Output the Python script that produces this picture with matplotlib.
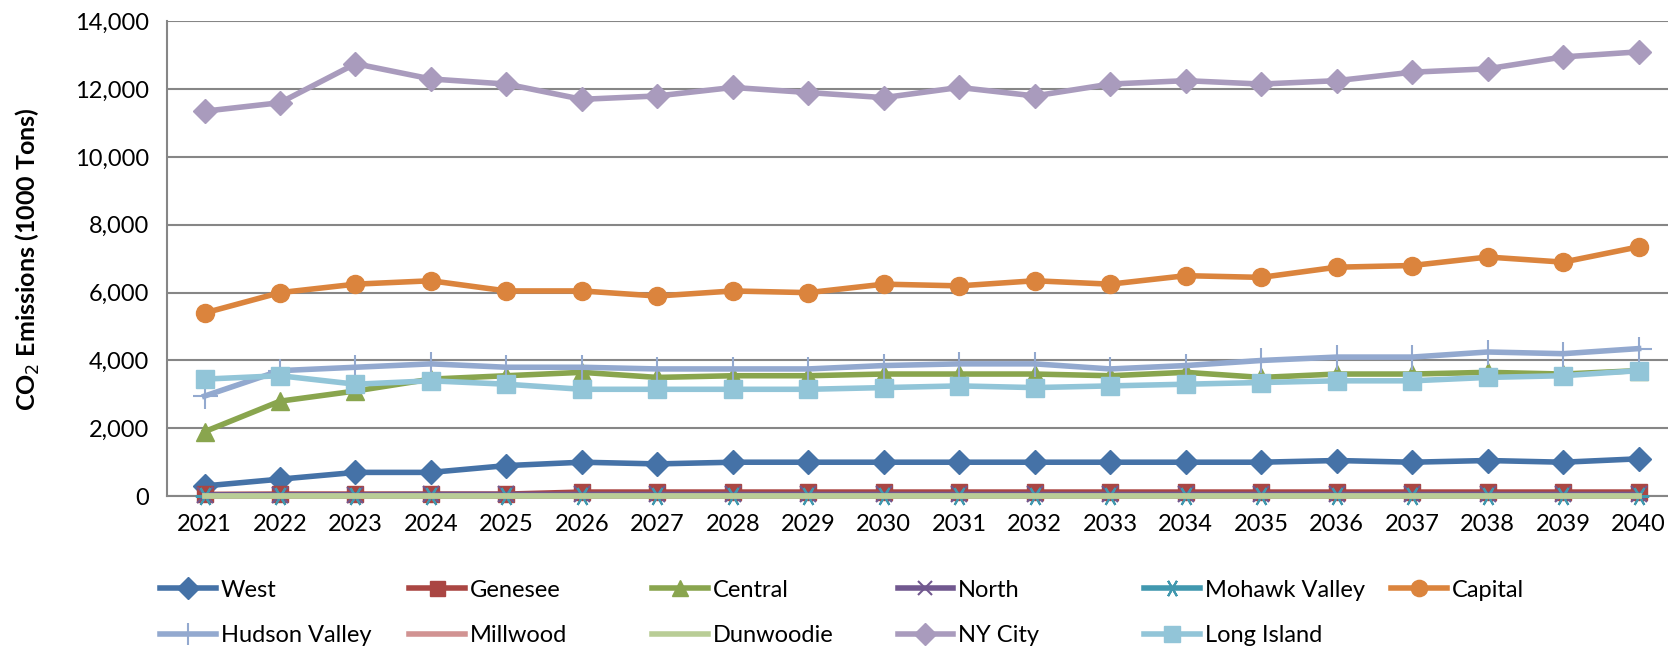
import matplotlib
matplotlib.use("Agg")
from matplotlib import pyplot as plt
from matplotlib.ticker import FuncFormatter

plt.rcParams['font.family'] = ['Lato', 'DejaVu Sans']

years = list(range(2021, 2041))

west = [300, 500, 700, 700, 900, 1000, 950, 1000, 1000, 1000,
        1000, 1000, 1000, 1000, 1000, 1050, 1000, 1050, 1000, 1100]
genesee = [50, 60, 60, 60, 60, 120, 120, 120, 120, 120,
           120, 120, 120, 120, 120, 120, 120, 120, 120, 120]
central = [1900, 2800, 3100, 3450, 3550, 3650, 3500, 3550, 3550, 3600,
           3600, 3600, 3550, 3650, 3500, 3600, 3600, 3650, 3600, 3700]
north = [40, 40, 40, 50, 50, 50, 50, 50, 50, 50,
         50, 50, 50, 50, 50, 50, 50, 50, 50, 50]
mohawk = [10, 10, 10, 10, 10, 10, 10, 10, 10, 10,
          10, 10, 10, 10, 10, 10, 10, 10, 10, 10]
capital = [5400, 6000, 6250, 6350, 6050, 6050, 5900, 6050, 6000, 6250,
           6200, 6350, 6250, 6500, 6450, 6750, 6800, 7050, 6900, 7350]
hudson = [2950, 3700, 3800, 3900, 3800, 3800, 3750, 3750, 3750, 3850,
          3900, 3900, 3750, 3850, 4000, 4100, 4100, 4250, 4200, 4350]
millwood = [0] * 20
dunwoodie = [0] * 20
nycity = [11350, 11600, 12750, 12300, 12150, 11700, 11800, 12050, 11900, 11750,
          12050, 11800, 12150, 12250, 12150, 12250, 12500, 12600, 12950, 13100]
long_island = [3450, 3550, 3300, 3400, 3300, 3150, 3150, 3150, 3150, 3200,
               3250, 3200, 3250, 3300, 3350, 3400, 3400, 3500, 3550, 3700]

series = [
    ("West", west, "#4572A7", "D", 12),
    ("Genesee", genesee, "#AA4643", "s", 12),
    ("Central", central, "#89A54E", "^", 13),
    ("North", north, "#71588F", "x", 11),
    ("Mohawk Valley", mohawk, "#4198AF", (6, 2, 90), 14),
    ("Capital", capital, "#DB843D", "o", 13),
    ("Hudson Valley", hudson, "#93A9CF", "+", 18),
    ("Millwood", millwood, "#D19392", None, 0),
    ("Dunwoodie", dunwoodie, "#B9CD96", None, 0),
    ("NY City", nycity, "#A99BBD", "D", 12),
    ("Long Island", long_island, "#92C5D8", "s", 13),
]

fig = plt.figure(figsize=(16.68, 6.46), dpi=100)
ax = fig.add_axes([0.100, 0.232, 0.905, 0.735])

handles = {}
for i, (name, vals, color, marker, ms) in enumerate(series):
    mew = 1.5 if marker in ("x", "+", (6, 2, 90)) else 1
    line, = ax.plot(years, vals, color=color, lw=4, marker=marker,
                    markersize=ms, markeredgewidth=mew, markeredgecolor=color,
                    zorder=3 + i, solid_joinstyle='miter', clip_on=False)
    handles[name] = line

ax.set_xlim(2020.5, 2040.5)
ax.set_ylim(0, 14000)
ax.set_yticks(range(0, 14001, 2000))
ax.yaxis.set_major_formatter(FuncFormatter(lambda v, p: f"{int(v):,}"))
ax.set_xticks(years)
ax.tick_params(axis='both', length=0, labelsize=17, colors='black')
ax.tick_params(axis='y', pad=13)
ax.tick_params(axis='x', pad=13)

ax.grid(axis='y', color='#868686', lw=1.5)
ax.set_axisbelow(True)
for s in ("top", "right"):
    ax.spines[s].set_visible(False)
for s in ("left", "bottom"):
    ax.spines[s].set_color('#868686')
    ax.spines[s].set_linewidth(1.5)

ax.set_ylabel("CO$_2$ Emissions (1000 Tons)", fontsize=18, fontweight='bold')
ax.yaxis.set_label_coords(-0.083, 0.5)

# legend: fixed column positions, two rows
order = [["West", "Hudson Valley"], ["Genesee", "Millwood"],
         ["Central", "Dunwoodie"], ["North", "NY City"],
         ["Mohawk Valley", "Long Island"], ["Capital"]]
col_x = [0.089, 0.238, 0.384, 0.531, 0.679, 0.827]
for c, names in enumerate(order):
    fig.legend([handles[n] for n in names], names, loc='upper left',
               bbox_to_anchor=(col_x[c], 0.121), frameon=False,
               fontsize=17, handlelength=2.37, handletextpad=0.2,
               labelspacing=1.05, markerscale=0.9, borderpad=0)

fig.savefig("out.png", dpi=100)
